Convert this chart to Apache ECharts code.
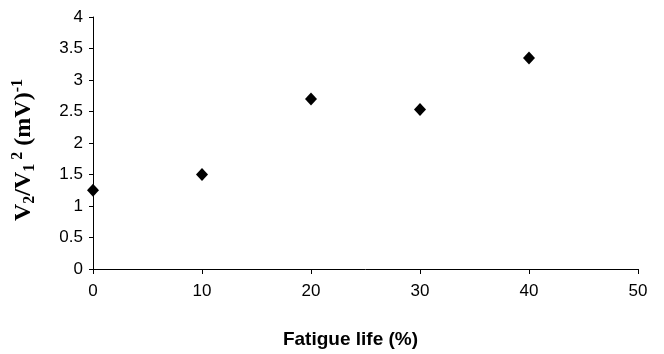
<!DOCTYPE html>
<html>
<head>
<meta charset="utf-8">
<script src="https://cdn.jsdelivr.net/npm/echarts@6/dist/echarts.min.js"></script>
<style>
  html, body { margin: 0; padding: 0; background: #fff; }
  #chart { width: 664px; height: 354px; }
</style>
</head>
<body>
<div id="chart"></div>
<script>
// fatigue life (%) and V2/V1^2 readings
const fatigueLife = [0, 10, 20, 30, 40];
const ratio = [1.25, 1.5, 2.7, 2.53, 3.35];

const chart = echarts.init(document.getElementById("chart"));

const labelFont = {
  color: "#000",
  fontFamily: "Liberation Sans, Arial, sans-serif",
  fontSize: 17,
};
const serif = "Liberation Serif, Times New Roman, serif";

const option = {
  animation: false,
  grid: {
    left: 93,
    right: 26,
    top: 17,
    bottom: 79,
  },
  xAxis: {
    type: "value",
    min: 0,
    max: 50,
    interval: 10,
    name: "Fatigue life (%)",
    nameLocation: "middle",
    nameGap: 61,
    nameTextStyle: {
      color: "#000",
      fontFamily: "Liberation Sans, Arial, sans-serif",
      fontWeight: "bold",
      fontSize: 19,
      padding: [0, 30, 0, 0],
    },
    splitLine: { show: false },
    axisLine: { lineStyle: { color: "#000", width: 1 } },
    axisTick: { length: 5, lineStyle: { color: "#000" } },
    axisLabel: Object.assign({ margin: 14 }, labelFont),
  },
  yAxis: {
    type: "value",
    min: 0,
    max: 4,
    interval: 0.5,
    name: "{b|V}{sub|2}{b|/V}{sub|1}{sup| 2}{b| (mV)}{sup|-1}",
    nameLocation: "middle",
    nameGap: 55,
    nameRotate: 90,
    nameTextStyle: {
      color: "#000",
      fontFamily: serif,
      fontWeight: "bold",
      fontSize: 24,
      padding: [0, 14, 0, 0],
      rich: {
        b: {
          fontFamily: serif,
          fontWeight: "bold",
          fontSize: 24,
          color: "#000",
          lineHeight: 28,
        },
        sub: {
          fontFamily: serif,
          fontWeight: "bold",
          fontSize: 16,
          color: "#000",
          verticalAlign: "bottom",
        },
        sup: {
          fontFamily: serif,
          fontWeight: "bold",
          fontSize: 16,
          color: "#000",
          verticalAlign: "top",
        },
      },
    },
    splitLine: { show: false },
    axisLine: { show: true, lineStyle: { color: "#000", width: 1 } },
    axisTick: { show: true, length: 4, lineStyle: { color: "#000" } },
    axisLabel: Object.assign({ margin: 10 }, labelFont),
  },
  series: [
    {
      type: "scatter",
      data: fatigueLife.map((x, i) => [x, ratio[i]]),
      symbol: "diamond",
      symbolSize: [12, 13],
      itemStyle: { color: "#000", opacity: 1 },
    },
  ],
};

chart.setOption(option);
</script>
</body>
</html>
